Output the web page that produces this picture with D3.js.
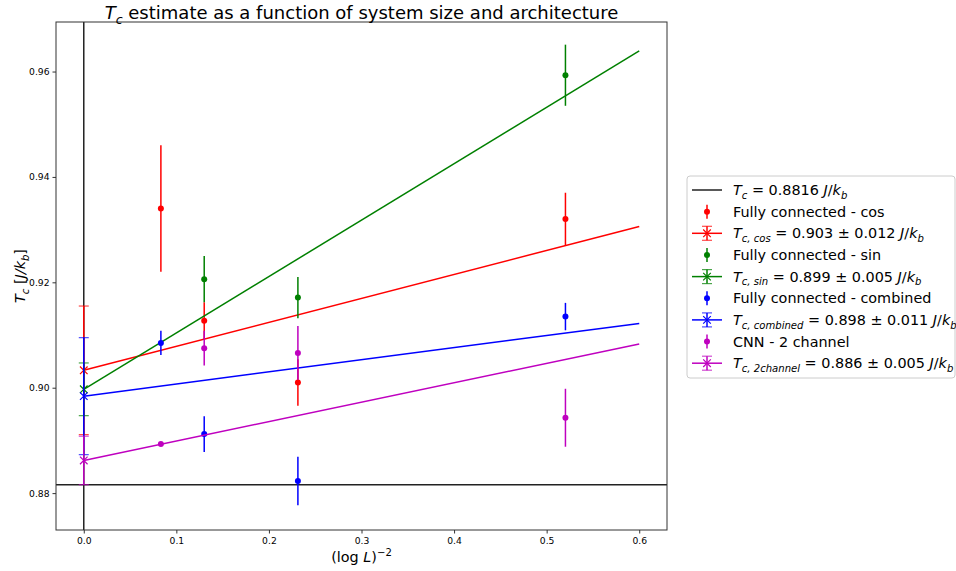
<!DOCTYPE html>
<html>
<head>
<meta charset="utf-8">
<script src="https://cdn.jsdelivr.net/npm/d3@7"></script>
<style>
  body { margin: 0; background: #fff; }
  text { font-family: "DejaVu Sans", sans-serif; fill: #000; }
  .tick text { font-size: 9.2px; }
  .axis path, .axis line { stroke: #333; }
</style>
</head>
<body>
<div id="chart"></div>
<script>
// data
const xL = [0.0833, 0.1301, 0.2313, 0.5203];      // (log L)^-2 for L = 32, 16, 8, 4
const xSin = [0.1301, 0.2313, 0.5203];

const cosY = [0.9340, 0.9127, 0.9010, 0.9320];
const cosErr = [0.0120, 0.0035, 0.0044, 0.0050];
const sinY = [0.9206, 0.9171, 0.9593];
const sinErr = [0.0044, 0.0039, 0.0058];
const combY = [0.9085, 0.8912, 0.8823, 0.9135];
const combErr = [0.0023, 0.0034, 0.0046, 0.0026];
const chanY = [0.8893, 0.9075, 0.9066, 0.8943];
const chanErr = [0.0003, 0.0033, 0.0051, 0.0055];

// linear fits, value at x = 0 and x = 0.6
const fitX = [0, 0.6];
const cosFit = [0.9033, 0.9306], cosFitErr = 0.0122;
const sinFit = [0.8997, 0.9639], sinFitErr = 0.0050;
const combFit = [0.8984, 0.9122], combFitErr = 0.0111;
const chanFit = [0.8862, 0.9083], chanFitErr = 0.0046;

const tcExact = 0.8816;

const xTicks = [0, 0.1, 0.2, 0.3, 0.4, 0.5, 0.6];
const yTicks = [0.88, 0.90, 0.92, 0.94, 0.96];

const width = 956,
      height = 571,
      margin = {top: 22, right: 289, bottom: 41, left: 56};

const chartWidth = width - margin.left - margin.right,
      chartHeight = height - margin.top - margin.bottom;

const svg = d3.select('#chart').append('svg')
    .attr('width', width)
    .attr('height', height);

const x = d3.scaleLinear().domain([-0.03, 0.63]).range([0, chartWidth]);
const y = d3.scaleLinear().domain([0.8730, 0.9694]).range([chartHeight, 0]);

const chart = svg.append('g')
    .attr('transform', `translate(${margin.left}, ${margin.top})`);

const series = [
    {color: 'red',     xs: xL,   ys: cosY,  errs: cosErr,  fit: cosFit,  fitErr: cosFitErr},
    {color: 'green',   xs: xSin, ys: sinY,  errs: sinErr,  fit: sinFit,  fitErr: sinFitErr},
    {color: 'blue',    xs: xL,   ys: combY, errs: combErr, fit: combFit, fitErr: combFitErr},
    {color: '#bf00bf', xs: xL,   ys: chanY, errs: chanErr, fit: chanFit, fitErr: chanFitErr}
];

// reference lines
chart.append('line')
    .attr('x1', 0).attr('x2', chartWidth)
    .attr('y1', y(tcExact)).attr('y2', y(tcExact))
    .attr('stroke', '#222').attr('stroke-width', 1.5);

chart.append('line')
    .attr('x1', x(0)).attr('x2', x(0))
    .attr('y1', 0).attr('y2', chartHeight)
    .attr('stroke', '#222').attr('stroke-width', 1.5);

function xMarker(g, cx, cy, r, color) {
    g.append('path')
        .attr('d', `M${cx - r},${cy - r}L${cx + r},${cy + r}M${cx - r},${cy + r}L${cx + r},${cy - r}`)
        .attr('stroke', color).attr('stroke-width', 1.2).attr('fill', 'none');
}

series.forEach(s => {
    const g = chart.append('g');

    // measured points with error bars
    s.ys.forEach((v, i) => {
        g.append('line')
            .attr('x1', x(s.xs[i])).attr('x2', x(s.xs[i]))
            .attr('y1', y(v - s.errs[i])).attr('y2', y(v + s.errs[i]))
            .attr('stroke', s.color).attr('stroke-width', 1.5);
        g.append('circle')
            .attr('cx', x(s.xs[i])).attr('cy', y(v))
            .attr('r', 3).attr('fill', s.color);
    });

    // fit line
    g.append('line')
        .attr('x1', x(fitX[0])).attr('x2', x(fitX[1]))
        .attr('y1', y(s.fit[0])).attr('y2', y(s.fit[1]))
        .attr('stroke', s.color).attr('stroke-width', 1.5);

    // extrapolated Tc with error bar
    const x0 = x(fitX[0]);
    g.append('line')
        .attr('x1', x0).attr('x2', x0)
        .attr('y1', y(s.fit[0] - s.fitErr)).attr('y2', y(s.fit[0] + s.fitErr))
        .attr('stroke', s.color).attr('stroke-width', 1.5);
    [s.fit[0] - s.fitErr, s.fit[0] + s.fitErr].forEach(c => {
        g.append('line')
            .attr('x1', x0 - 5).attr('x2', x0 + 5)
            .attr('y1', y(c)).attr('y2', y(c))
            .attr('stroke', s.color).attr('stroke-width', 1.2).attr('opacity', 0.7);
    });
    xMarker(g, x0, y(s.fit[0]), 3.8, s.color);
});

// axes
chart.append('g')
    .attr('class', 'axis')
    .attr('transform', `translate(0, ${chartHeight})`)
    .call(d3.axisBottom(x).tickValues(xTicks).tickFormat(d3.format('.1f')).tickSize(3.5).tickPadding(4));

chart.append('g')
    .attr('class', 'axis')
    .call(d3.axisLeft(y).tickValues(yTicks).tickFormat(d3.format('.2f')).tickSize(3.5).tickPadding(3));

chart.selectAll('.axis path').remove();

chart.append('rect')
    .attr('width', chartWidth).attr('height', chartHeight)
    .attr('fill', 'none').attr('stroke', '#333').attr('stroke-width', 1);

// rich text helper: segments [text, italic, 'sub' | 'sup']
function richText(sel, parts, size) {
    let shift = 0;   // current offset from the baseline
    parts.forEach(p => {
        const t = sel.append('tspan').text(p[0]);
        if (p[1]) t.style('font-style', 'italic');
        let target = 0;
        if (p[2] === 'sub') target = size * 0.25;
        if (p[2] === 'sup') target = -size * 0.4;
        if (target !== shift) t.attr('dy', target - shift);
        if (p[2]) t.style('font-size', (size * 0.7) + 'px');
        shift = target;
    });
}

// title
const title = svg.append('text')
    .attr('x', margin.left + chartWidth / 2).attr('y', 19)
    .attr('text-anchor', 'middle')
    .style('font-size', '18px');
richText(title, [['T', true], ['c', true, 'sub'], [' estimate as a function of system size and architecture']], 18);

// axis labels
const xLabel = svg.append('text')
    .attr('x', margin.left + chartWidth / 2).attr('y', 562)
    .attr('text-anchor', 'middle')
    .style('font-size', '14.4px');
richText(xLabel, [['(log '], ['L', true], [')'], ['\u22122', false, 'sup']], 14.4);

const yLabel = svg.append('text')
    .attr('transform', `translate(25, ${margin.top + chartHeight / 2}) rotate(-90)`)
    .attr('text-anchor', 'middle')
    .style('font-size', '14.4px');
richText(yLabel, [['T', true], ['c', true, 'sub'], [' ['], ['J/k', true], ['b', true, 'sub'], [']']], 14.4);

// legend
const legendItems = [
    {type: 'line', color: '#222', label: [['T', true], ['c', true, 'sub'], [' = 0.8816 '], ['J', true], ['/'], ['k', true], ['b', true, 'sub']]},
    {type: 'point', color: 'red', label: [['Fully connected - cos']]},
    {type: 'fit', color: 'red', label: [['T', true], ['c, cos', true, 'sub'], [' = 0.903 \u00b1 0.012 '], ['J', true], ['/'], ['k', true], ['b', true, 'sub']]},
    {type: 'point', color: 'green', label: [['Fully connected - sin']]},
    {type: 'fit', color: 'green', label: [['T', true], ['c, sin', true, 'sub'], [' = 0.899 \u00b1 0.005 '], ['J', true], ['/'], ['k', true], ['b', true, 'sub']]},
    {type: 'point', color: 'blue', label: [['Fully connected - combined']]},
    {type: 'fit', color: 'blue', label: [['T', true], ['c, combined', true, 'sub'], [' = 0.898 \u00b1 0.011 '], ['J', true], ['/'], ['k', true], ['b', true, 'sub']]},
    {type: 'point', color: '#bf00bf', label: [['CNN - 2 channel']]},
    {type: 'fit', color: '#bf00bf', label: [['T', true], ['c, 2channel', true, 'sub'], [' = 0.886 \u00b1 0.005 '], ['J', true], ['/'], ['k', true], ['b', true, 'sub']]}
];

const legend = svg.append('g').attr('transform', 'translate(687, 176)');
legend.append('rect')
    .attr('x', 0).attr('y', 0).attr('width', 268).attr('height', 202)
    .attr('rx', 3)
    .attr('fill', '#fff').attr('stroke', '#ccc').attr('stroke-width', 1);

const rowH = 21.65;
legendItems.forEach((d, i) => {
    const cy = 14 + i * rowH;
    const g = legend.append('g');
    if (d.type === 'line' || d.type === 'fit') {
        g.append('line').attr('x1', 5).attr('x2', 35).attr('y1', cy).attr('y2', cy)
            .attr('stroke', d.color).attr('stroke-width', 1.5);
    }
    if (d.type === 'point' || d.type === 'fit') {
        g.append('line').attr('x1', 20).attr('x2', 20).attr('y1', cy - 7).attr('y2', cy + 7)
            .attr('stroke', d.color).attr('stroke-width', 1.5);
    }
    if (d.type === 'point') {
        g.append('circle').attr('cx', 20).attr('cy', cy).attr('r', 3).attr('fill', d.color);
    }
    if (d.type === 'fit') {
        [cy - 7, cy + 7].forEach(c => {
            g.append('line').attr('x1', 15).attr('x2', 25).attr('y1', c).attr('y2', c)
                .attr('stroke', d.color).attr('stroke-width', 1.2).attr('opacity', 0.7);
        });
        xMarker(g, 20, cy, 3.8, d.color);
    }
    const t = g.append('text').attr('x', 46).attr('y', cy + 5).style('font-size', '14.4px');
    richText(t, d.label, 14.4);
});
</script>
</body>
</html>
